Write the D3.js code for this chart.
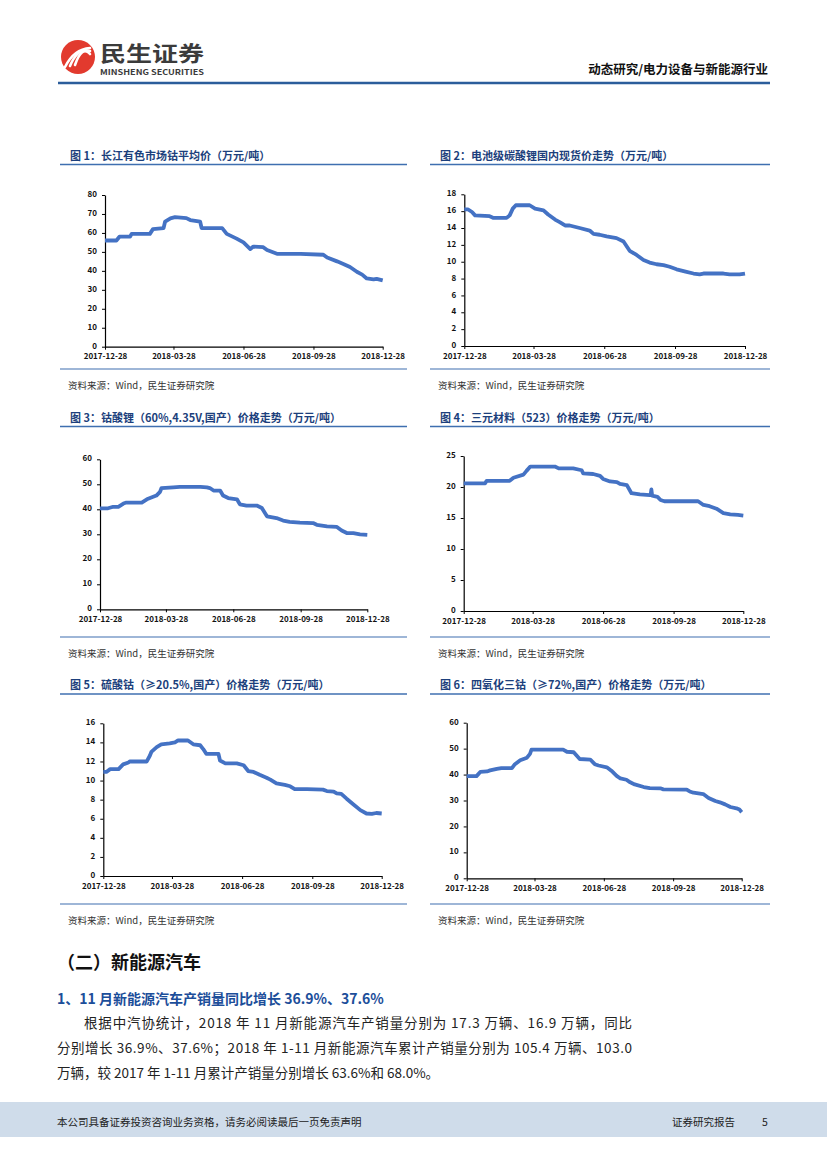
<!DOCTYPE html>
<html>
<head>
<meta charset="utf-8">
<script src="https://cdn.jsdelivr.net/npm/d3@7"></script>
<style>
  body { margin: 0; background: #fff; }
  svg text { font-family: "Noto Sans CJK SC", sans-serif; }
</style>
</head>
<body>
<div id="page"></div>
<script>
// ---- data (万元/吨) ----
const cobaltDates = ["2017-12-28","2018-01-12","2018-01-16","2018-01-30","2018-02-01","2018-02-25","2018-03-01","2018-03-15","2018-03-17","2018-03-24","2018-03-30","2018-04-14","2018-04-19","2018-05-02","2018-05-04","2018-05-31","2018-06-06","2018-06-19","2018-06-28","2018-07-07","2018-07-11","2018-07-24","2018-07-29","2018-08-11","2018-09-11","2018-10-11","2018-10-16","2018-10-29","2018-11-07","2018-11-15","2018-11-24","2018-12-01","2018-12-07","2018-12-16","2018-12-20","2018-12-28"];
const cobaltValues = [56,56,58,58,59.5,59.5,62,62.5,66,67.7,68.3,67.8,66.8,66,62.5,62.5,59.5,57,55,51.5,52.8,52.5,51,49,49,48.5,47,45,43.5,42,39.5,38,36,35.5,35.8,35];

const lithiumDates = ["2017-12-28","2018-01-02","2018-01-07","2018-01-11","2018-01-30","2018-02-04","2018-02-21","2018-02-25","2018-03-01","2018-03-05","2018-03-23","2018-03-30","2018-04-10","2018-04-16","2018-04-25","2018-05-01","2018-05-08","2018-05-14","2018-05-27","2018-06-09","2018-06-14","2018-06-22","2018-07-01","2018-07-14","2018-07-23","2018-07-31","2018-08-09","2018-08-18","2018-08-26","2018-09-04","2018-09-13","2018-09-21","2018-09-30","2018-10-13","2018-10-22","2018-10-30","2018-11-04","2018-11-30","2018-12-08","2018-12-21","2018-12-28"];
const lithiumValues = [16.2,16.2,15.9,15.5,15.4,15.2,15.2,15.5,16.3,16.7,16.7,16.3,16.1,15.6,15.0,14.7,14.3,14.3,14.0,13.7,13.3,13.2,13.0,12.8,12.4,11.3,10.8,10.2,9.9,9.7,9.6,9.4,9.1,8.8,8.6,8.5,8.6,8.6,8.5,8.5,8.6];

const lcoDates = ["2017-12-28","2018-01-08","2018-01-15","2018-01-22","2018-01-29","2018-02-02","2018-02-23","2018-03-02","2018-03-15","2018-03-20","2018-03-22","2018-04-07","2018-04-16","2018-05-14","2018-05-23","2018-05-27","2018-06-01","2018-06-10","2018-06-14","2018-06-21","2018-07-03","2018-07-07","2018-07-16","2018-07-30","2018-08-06","2018-08-13","2018-08-26","2018-09-04","2018-09-13","2018-09-27","2018-10-15","2018-10-20","2018-11-03","2018-11-16","2018-11-23","2018-11-30","2018-12-09","2018-12-18","2018-12-28"];
const lcoValues = [40.4,40.4,41,41,42.3,42.7,42.7,44,45.5,47,48.5,48.8,49,49,48.8,48.5,47.5,47.5,45.5,44.5,44,42,41.5,41.5,40.5,37.2,36.5,35.5,35,34.7,34.5,33.8,33.2,33,31.5,30.5,30.5,30,29.8];

const ncmDates = ["2017-12-28","2018-01-25","2018-01-27","2018-02-26","2018-03-03","2018-03-16","2018-03-20","2018-03-25","2018-04-26","2018-05-01","2018-05-20","2018-05-31","2018-06-02","2018-06-15","2018-06-24","2018-06-28","2018-07-07","2018-07-16","2018-07-20","2018-07-29","2018-08-04","2018-08-15","2018-08-28","2018-08-29","2018-08-30","2018-08-31","2018-09-07","2018-09-11","2018-09-16","2018-10-11","2018-10-30","2018-11-06","2018-11-14","2018-11-23","2018-12-02","2018-12-11","2018-12-21","2018-12-28"];
const ncmValues = [20.6,20.6,21,21,21.5,22,22.6,23.3,23.3,23,23,22.7,22.2,22.1,21.8,21.3,20.9,20.8,20.5,20.3,19,18.8,18.7,18.7,19.6,18.6,18.4,17.9,17.7,17.7,17.7,17.1,16.9,16.5,15.8,15.6,15.5,15.4];

const sulfateDates = ["2017-12-28","2018-01-01","2018-01-06","2018-01-17","2018-01-23","2018-01-30","2018-02-01","2018-02-23","2018-02-27","2018-03-01","2018-03-08","2018-03-14","2018-03-25","2018-04-01","2018-04-05","2018-04-18","2018-04-25","2018-05-04","2018-05-08","2018-05-12","2018-05-28","2018-05-30","2018-06-06","2018-06-21","2018-06-30","2018-07-06","2018-07-13","2018-07-21","2018-07-30","2018-08-04","2018-08-12","2018-08-23","2018-08-30","2018-09-05","2018-09-21","2018-10-12","2018-10-17","2018-10-26","2018-10-30","2018-11-05","2018-11-12","2018-11-21","2018-11-30","2018-12-08","2018-12-15","2018-12-21","2018-12-28"];
const sulfateValues = [10.9,10.9,11.2,11.2,11.7,11.9,12.0,12.0,12.6,13.0,13.5,13.8,13.9,14.0,14.2,14.2,13.8,13.7,13.3,12.8,12.8,12.1,11.8,11.8,11.6,11.0,10.9,10.6,10.3,10.1,9.7,9.55,9.4,9.1,9.1,9.05,8.9,8.85,8.65,8.6,8.1,7.5,6.9,6.55,6.5,6.6,6.55];

const oxideDates = ["2017-12-28","2018-01-10","2018-01-15","2018-01-24","2018-01-28","2018-02-06","2018-02-12","2018-02-26","2018-03-02","2018-03-09","2018-03-18","2018-03-22","2018-03-24","2018-05-05","2018-05-10","2018-05-19","2018-05-27","2018-06-10","2018-06-16","2018-06-21","2018-07-02","2018-07-08","2018-07-15","2018-07-20","2018-07-28","2018-08-02","2018-08-08","2018-08-20","2018-08-28","2018-09-11","2018-09-15","2018-10-16","2018-10-20","2018-10-25","2018-11-07","2018-11-14","2018-11-23","2018-11-29","2018-12-06","2018-12-13","2018-12-21","2018-12-25","2018-12-28"];
const oxideValues = [39.4,39.4,41,41.2,41.6,42.2,42.5,42.5,44,45.5,46.5,48,49.6,49.6,48.8,48.6,46,45.8,44,43.5,42.8,41.5,39.5,38.5,38,37,36.2,35.2,34.8,34.7,34.3,34.2,33.5,33,32.5,31,29.8,29.3,28.5,27.5,27,26.5,25.5];

const xTickLabels = ["2017-12-28","2018-03-28","2018-06-28","2018-09-28","2018-12-28"];

const chartTitles = [
  "图 1：长江有色市场钴平均价（万元/吨）",
  "图 2：电池级碳酸锂国内现货价走势（万元/吨）",
  "图 3：钴酸锂（60%,4.35V,国产）价格走势（万元/吨）",
  "图 4：三元材料（523）价格走势（万元/吨）",
  "图 5：硫酸钴（≥20.5%,国产）价格走势（万元/吨）",
  "图 6：四氧化三钴（≥72%,国产）价格走势（万元/吨）"
];

const parse = d3.timeParse("%Y-%m-%d");
const blue = "#4472c4";
const rule = "#3f6fb0";

const svg = d3.select("#page").append("svg")
  .attr("width", 827).attr("height", 1169);

// ---- header ----
const logo = svg.append("g").attr("transform", "translate(78,57)");
logo.append("circle").attr("r", 17).attr("fill", "#e23a2e");
[0, 1, 2].forEach(function(i) {
  logo.append("path")
    .attr("d", `M${-13 + i * 5},${10 - i} Q${-4 + i * 4},${-8 - i * 2} ${12},${-9 + i * 3}`)
    .attr("fill", "none").attr("stroke", "#fff").attr("stroke-width", 2.6).attr("stroke-linecap", "round");
});
svg.append("text").attr("x", 100).attr("y", 61)
  .attr("font-size", 21).attr("font-weight", 700).attr("fill", "#3b3b3b")
  .attr("textLength", 104).attr("lengthAdjust", "spacingAndGlyphs")
  .text("民生证券");
svg.append("text").attr("x", 100).attr("y", 75)
  .attr("font-size", 7.5).attr("font-weight", 700).attr("fill", "#3b3b3b")
  .attr("textLength", 104).attr("lengthAdjust", "spacingAndGlyphs")
  .text("MINSHENG SECURITIES");
svg.append("text").attr("x", 768).attr("y", 74).attr("text-anchor", "end")
  .attr("font-size", 12.5).attr("font-weight", 700).attr("fill", "#111")
  .text("动态研究/电力设备与新能源行业");
svg.append("line").attr("x1", 58).attr("x2", 770).attr("y1", 83).attr("y2", 83)
  .attr("stroke", "#2b5d9b").attr("stroke-width", 2.5);

// ---- panels ----
const panels = [
  {title: chartTitles[0], dates: cobaltDates, values: cobaltValues, yMax: 80, yStep: 10,
   px: 60, pw: 347, ty: 160, ly: 164.5, by: 369, box: [105, 382.7, 195, 346.7]},
  {title: chartTitles[1], dates: lithiumDates, values: lithiumValues, yMax: 18, yStep: 2,
   px: 430, pw: 340, ty: 160, ly: 164.5, by: 369, box: [464.3, 745, 194.3, 346]},
  {title: chartTitles[2], dates: lcoDates, values: lcoValues, yMax: 60, yStep: 10,
   px: 60, pw: 347, ty: 422, ly: 426.5, by: 637, box: [100, 367.3, 459.3, 609.3]},
  {title: chartTitles[3], dates: ncmDates, values: ncmValues, yMax: 25, yStep: 5,
   px: 430, pw: 340, ty: 422, ly: 426.5, by: 637, box: [463.7, 743.3, 456, 611]},
  {title: chartTitles[4], dates: sulfateDates, values: sulfateValues, yMax: 16, yStep: 2,
   px: 60, pw: 347, ty: 689, ly: 694, by: 904, box: [103.3, 381.7, 723.3, 876]},
  {title: chartTitles[5], dates: oxideDates, values: oxideValues, yMax: 60, yStep: 10,
   px: 430, pw: 340, ty: 689, ly: 694, by: 904, box: [466.7, 741.7, 722.7, 878.3]}
];

panels.forEach(function(p) {
  // title + rules
  svg.append("text").attr("x", p.px + 10).attr("y", p.ty)
    .attr("font-size", 11).attr("font-weight", 700).attr("fill", "#1c3f7c")
    .text(p.title);
  svg.append("line").attr("x1", p.px).attr("x2", p.px + p.pw).attr("y1", p.ly).attr("y2", p.ly)
    .attr("stroke", rule).attr("stroke-width", 1.6);
  svg.append("line").attr("x1", p.px).attr("x2", p.px + p.pw).attr("y1", p.by).attr("y2", p.by)
    .attr("stroke", rule).attr("stroke-width", 1.2);
  svg.append("text").attr("x", p.px + 8).attr("y", p.by + 20)
    .attr("font-size", 9.5).attr("fill", "#333")
    .text("资料来源：Wind，民生证券研究院");

  const [l, r, t, b] = p.box;
  const x = d3.scaleTime()
    .domain([parse("2017-12-28"), parse("2018-12-28")])
    .range([l, r]);
  const y = d3.scaleLinear().domain([0, p.yMax]).range([b, t]);

  const g = svg.append("g");
  const xAxis = g.append("g")
    .attr("transform", `translate(0, ${b})`)
    .call(d3.axisBottom(x).tickValues(xTickLabels.map(parse)).tickFormat(d3.timeFormat("%Y-%m-%d")).tickSize(3).tickSizeOuter(0));
  const yAxis = g.append("g")
    .attr("transform", `translate(${l}, 0)`)
    .call(d3.axisLeft(y).tickValues(d3.range(0, p.yMax + 0.001, p.yStep)).tickSize(3).tickSizeOuter(0));
  [xAxis, yAxis].forEach(function(a) {
    a.select(".domain").attr("stroke", "#000").attr("stroke-width", 1.2);
    a.selectAll(".tick line").attr("stroke", "#000");
    a.selectAll(".tick text")
      .attr("font-family", "Liberation Serif, serif")
      .attr("font-size", 8).attr("font-weight", 700).attr("fill", "#111");
  });
  xAxis.selectAll(".tick text").attr("dy", "0.85em");
  yAxis.selectAll(".tick text").attr("dx", "-2").attr("dy", "0.2em");

  const data = p.dates.map(function(d, i) { return {date: parse(d), value: p.values[i]}; });
  g.append("path")
    .datum(data)
    .attr("fill", "none")
    .attr("stroke", blue)
    .attr("stroke-width", 3.8)
    .attr("stroke-linejoin", "round")
    .attr("d", d3.line()
      .x(function(d) { return x(d.date); })
      .y(function(d) { return y(d.value); }));
});

// ---- text section ----
svg.append("text").attr("x", 57).attr("y", 969)
  .attr("font-size", 18).attr("font-weight", 700).attr("fill", "#111")
  .text("（二）新能源汽车");
svg.append("text").attr("x", 57).attr("y", 1004)
  .attr("font-size", 14).attr("font-weight", 700).attr("fill", "#1c4e9a")
  .attr("font-family", "Liberation Serif, Noto Sans CJK SC, serif")
  .text("1、11 月新能源汽车产销量同比增长 36.9%、37.6%");
const bodyLines = [
  {x: 84, w: 548, s: "根据中汽协统计，2018 年 11 月新能源汽车产销量分别为 17.3 万辆、16.9 万辆，同比"},
  {x: 57, w: 575, s: "分别增长 36.9%、37.6%；2018 年 1-11 月新能源汽车累计产销量分别为 105.4 万辆、103.0"},
  {x: 57, w: null, s: "万辆，较 2017 年 1-11 月累计产销量分别增长 63.6%和 68.0%。"}
];
bodyLines.forEach(function(ln, i) {
  const t = svg.append("text").attr("x", ln.x).attr("y", 1028 + i * 25)
    .attr("font-size", 13.5).attr("fill", "#222")
    .attr("font-family", "Liberation Serif, Noto Sans CJK SC, serif")
    .text(ln.s);
  if (ln.w) t.attr("textLength", ln.w).attr("lengthAdjust", "spacing");
});

// ---- footer ----
svg.append("rect").attr("x", 0).attr("y", 1102).attr("width", 827).attr("height", 35).attr("fill", "#cfdcea");
svg.append("text").attr("x", 57).attr("y", 1126).attr("font-size", 10.5).attr("fill", "#222")
  .text("本公司具备证券投资咨询业务资格，请务必阅读最后一页免责声明");
svg.append("text").attr("x", 735).attr("y", 1126).attr("text-anchor", "end").attr("font-size", 10.5).attr("fill", "#222")
  .text("证券研究报告");
svg.append("text").attr("x", 765).attr("y", 1126).attr("text-anchor", "middle").attr("font-size", 10.5).attr("fill", "#222")
  .text("5");
</script>
</body>
</html>
